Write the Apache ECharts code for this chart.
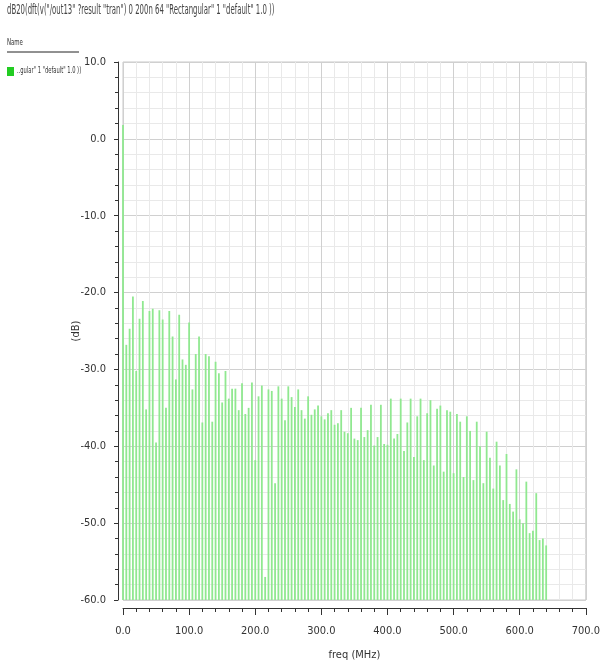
<!DOCTYPE html>
<html>
<head>
<meta charset="utf-8">
<script src="https://cdn.jsdelivr.net/npm/echarts@6/dist/echarts.min.js"></script>
<style>
html,body{margin:0;padding:0;background:#fff;overflow:hidden;width:603px;height:666px;}
#chart{width:603px;height:666px;}
</style>
</head>
<body>
<div id="chart"></div>
<script>
// Frequency bins (MHz), 5 MHz step, 0..640
var freqs = [];
for (var k = 0; k <= 128; k++) { freqs.push(k * 5); }

// Magnitude (dB), one per bin
var magnitudes = [
  1.8, -26.8, -24.7, -20.5, -30.2, -23.4, -21.1, -35.2, -22.4, -22.1,
  -39.5, -22.3, -23.5, -35.0, -22.4, -25.7, -31.3, -22.9, -28.7, -29.4,
  -23.9, -32.6, -28.0, -25.7, -36.9, -28.0, -28.3, -36.8, -29.0, -30.5,
  -34.3, -30.2, -33.8, -32.5, -32.5, -35.3, -31.8, -35.8, -35.0, -31.7,
  -41.8, -33.5, -32.1, -57.0, -32.6, -32.8, -44.8, -32.2, -33.8, -36.6,
  -32.2, -33.6, -34.9, -32.6, -35.3, -36.4, -33.5, -35.9, -35.2, -34.7,
  -36.1, -36.5, -35.7, -35.3, -37.2, -37.0, -35.3, -38.1, -38.3, -35.0,
  -39.0, -39.2, -35.0, -38.8, -37.9, -34.6, -39.9, -38.8, -34.6, -39.7,
  -39.8, -33.8, -39.0, -38.4, -33.8, -40.6, -36.9, -33.8, -41.4, -36.1,
  -33.8, -41.8, -35.7, -34.0, -42.5, -35.1, -34.7, -43.3, -35.3, -35.5,
  -43.5, -35.8, -36.8, -44.0, -36.1, -38.0, -44.4, -36.8, -40.0, -44.8,
  -38.1, -41.5, -45.5, -39.4, -42.5, -47.0, -41.0, -47.5, -48.5, -43.0,
  -49.5, -50.0, -44.6, -51.3, -51.0, -46.1, -52.2, -52.0, -52.9
];

var titleText = 'dB20(dft(v("/out13" ?result "tran") 0 200n 64 "Rectangular" 1 "default" 1.0 ))';
var seriesName = '..gular" 1 "default" 1.0 ))';
var xName = 'freq (MHz)';
var yName = '(dB)';
var yFloor = -60;

var FONT = '"DejaVu Sans Condensed", "DejaVu Sans", sans-serif';

var chart = echarts.init(document.getElementById('chart'), null, {renderer: 'canvas', width: 603, height: 666});

var data = freqs.map(function (f, i) { return [f, magnitudes[i]]; });

chart.setOption({
  animation: false,
  backgroundColor: '#ffffff',
  graphic: [
    {type: 'text', x: 7, y: 3, scaleX: 0.55, style: {text: titleText, font: '14px ' + FONT, fill: '#444'}},
    {type: 'text', x: 7, y: 39, scaleX: 0.75, style: {text: 'Name', font: '8px ' + FONT, fill: '#333'}},
    {type: 'line', shape: {x1: 7, y1: 52, x2: 79, y2: 52}, style: {stroke: '#222', lineWidth: 1}},
    {type: 'rect', shape: {x: 7, y: 67, width: 7, height: 9}, style: {fill: '#22cc22'}},
    {type: 'text', x: 17, y: 67, scaleX: 0.72, style: {text: seriesName, font: '8px ' + FONT, fill: '#333'}}
  ],
  grid: {left: 123, right: 13, top: 62, bottom: 66, show: true, borderColor: '#c8c8c8', borderWidth: 1},
  xAxis: {
    type: 'value', min: 0, max: 700, interval: 100,
    offset: 8,
    name: xName, nameLocation: 'middle', nameGap: 42, nameMoveOverlap: false,
    nameTextStyle: {fontSize: 11, fontFamily: FONT, color: '#333'},
    axisLine: {show: true, onZero: false, lineStyle: {color: '#333'}},
    axisTick: {show: true, length: 7, lineStyle: {color: '#333'}},
    minorTick: {show: true, splitNumber: 5, length: 4, lineStyle: {color: '#333'}},
    axisLabel: {fontSize: 11, fontFamily: FONT, color: '#333', margin: 18,
      formatter: function (v) { return v.toFixed(1); }},
    splitLine: {show: true, lineStyle: {color: '#d0d0d0', width: 1}},
    minorSplitLine: {show: true, lineStyle: {color: '#e9e9e9', width: 1}}
  },
  yAxis: {
    type: 'value', min: -60, max: 10, interval: 10,
    offset: 5,
    name: yName, nameLocation: 'middle', nameGap: 36, nameMoveOverlap: false,
    nameTextStyle: {fontSize: 11, fontFamily: FONT, color: '#333'},
    axisLine: {show: true, onZero: false, lineStyle: {color: '#333'}},
    axisTick: {show: true, length: 4, lineStyle: {color: '#333'}},
    minorTick: {show: true, splitNumber: 5, length: 3, lineStyle: {color: '#333'}},
    axisLabel: {fontSize: 11, fontFamily: FONT, color: '#333', margin: 12,
      formatter: function (v) { return v.toFixed(1); }},
    splitLine: {show: true, lineStyle: {color: '#d0d0d0', width: 1}},
    minorSplitLine: {show: true, lineStyle: {color: '#e9e9e9', width: 1}}
  },
  series: [{
    name: seriesName,
    type: 'custom',
    itemStyle: {color: '#22cc22'},
    encode: {x: 0, y: 1},
    renderItem: function (params, api) {
      var x = api.value(0), y = api.value(1);
      var top = api.coord([x, y]);
      var bot = api.coord([x, yFloor]);
      var w = 1.8;
      return {
        type: 'rect',
        shape: {x: top[0] - w / 2, y: top[1], width: w, height: bot[1] - top[1]},
        style: {fill: '#90e890'}
      };
    },
    data: data
  }]
});
</script>
</body>
</html>
